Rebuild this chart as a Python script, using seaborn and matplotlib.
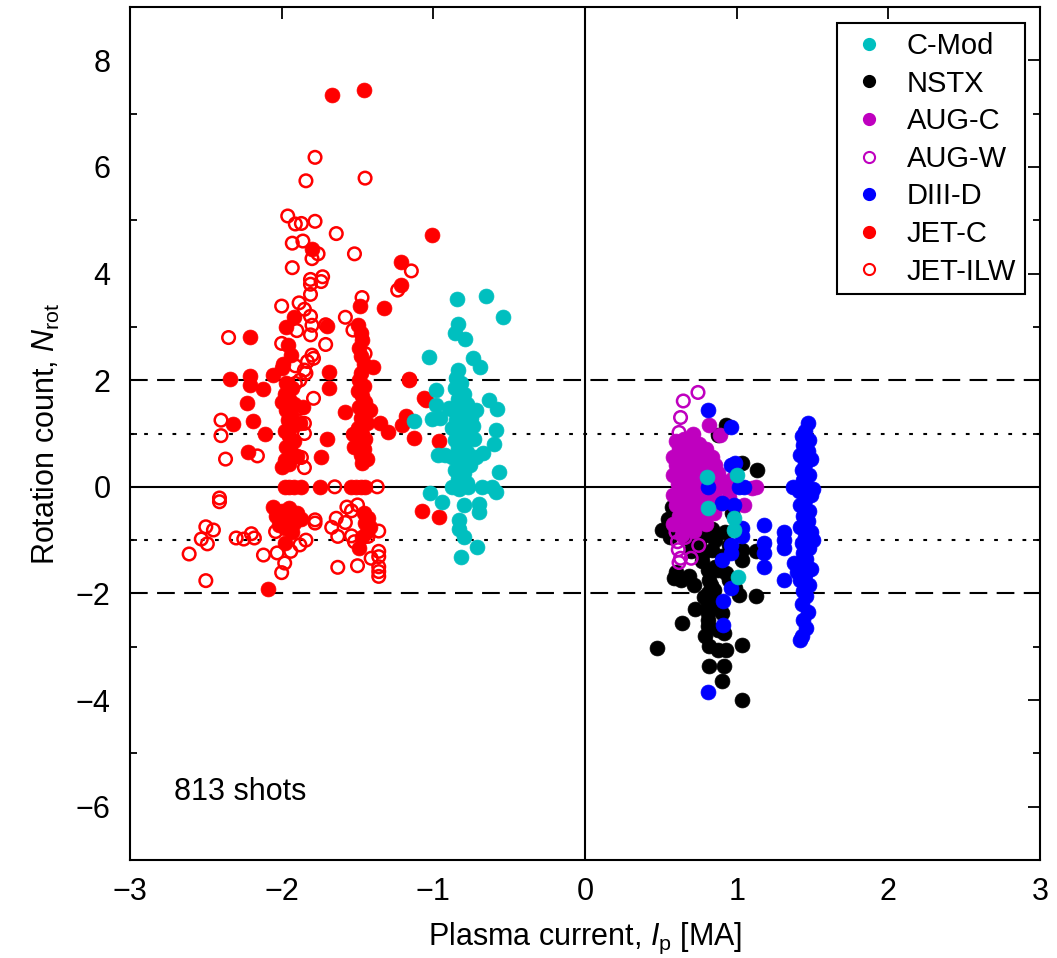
import matplotlib
matplotlib.use("Agg")
import matplotlib.pyplot as plt
import seaborn as sns
import pandas as pd
from matplotlib.lines import Line2D

# ---------------- data ----------------
cmod_x = [-0.846, -0.65, -0.54, -0.84, -0.86, -0.79, -1.03, -0.74, -0.69, -0.84, -0.98, -0.98, -1.13, -1.01,
          -0.955, -0.90, -0.63, -0.58, -0.59, -0.60, -0.67, -0.97, -0.92, -0.57, -0.59, -1.02, -0.94, -0.80,
          -0.70, -0.70, -0.83, -0.83, -0.80, -0.71, -0.82,
          -0.85, -0.82, -0.86, -0.80, -0.84, -0.78, -0.87, -0.81, -0.75, -0.85, -0.79, -0.88, -0.83, -0.76,
          -0.86, -0.80, -0.84, -0.78, -0.88, -0.82, -0.76, -0.86, -0.80, -0.84, -0.78, -0.72, -0.73, -0.72, -0.74,
          -0.88, -0.77, -0.68, -0.61, -0.83,
          0.806, 1.0, 0.81, 0.98, 0.98, 1.01]
cmod_y = [3.52, 3.58, 3.18, 3.05, 2.89, 2.77, 2.44, 2.42, 2.25, 2.20, 1.82, 1.54, 1.24, 1.27,
          1.30, 1.47, 1.63, 1.46, 1.07, 0.80, 0.63, 0.60, 0.60, 0.27, -0.09, -0.11, -0.28, -0.35,
          -0.32, -0.48, -0.62, -0.79, -0.94, -1.12, -1.31,
          2.05, 1.95, 1.85, 1.75, 1.65, 1.55, 1.45, 1.38, 1.30, 1.25, 1.18, 1.10, 1.02, 0.95,
          0.88, 0.80, 0.72, 0.65, 0.55, 0.48, 0.40, 0.32, 0.25, 0.15, 0.08, 1.45, 0.90, 0.55, 1.15,
          0.0, 0.0, 0.0, 0.0, -0.05,
          0.19, 0.22, -0.40, -0.59, -0.81, -1.70]

nstx_x = [0.477, 0.64, 0.725, 0.51, 0.587, 0.63, 0.685, 0.72, 1.037, 0.905, 0.817, 0.916, 0.93, 0.88,
          0.817, 1.037, 0.916, 0.81, 0.81, 0.81, 0.81, 0.81, 0.81, 1.125, 1.015, 0.95, 0.93, 0.88,
          0.81, 0.82, 0.86, 0.77, 0.78, 0.84, 1.037, 1.037, 1.125, 1.136, 1.037, 0.93, 0.88, 0.575,
          0.66, 0.785, 0.85, 0.88, 0.905, 0.69, 0.74, 0.80, 0.86, 0.92, 0.70, 0.75, 0.90, 0.95, 0.84,
          0.56, 0.55, 0.60, 0.97, 0.99, 0.79, 0.87, 0.83]
nstx_y = [-3.02, -2.56, -2.29, -0.81, -1.71, -1.74, -1.68, -1.84, -3.99, -3.65, -3.37, -3.37, -3.07, -3.07,
          -2.98, -2.96, -2.74, -2.62, -2.49, -2.36, -2.24, -2.12, -1.99, -2.05, -2.03, -1.74, -1.62, -1.56,
          -1.56, -1.74, -1.50, -1.40, -1.24, -1.18, -1.37, -1.18, -1.21, 0.32, 0.44, 1.16, 0.97, -0.37,
          -0.68, -2.06, -1.94, -2.68, -2.37, -1.00, -0.95, -0.90, -1.00, -0.85, -1.20, -1.10, -1.30, -1.10, -0.80,
          -0.95, -0.60, -1.60, -0.50, -1.90, -2.80, -2.20, -1.85]

augc_x = [0.82, 0.89, 0.71, 1.10, 1.13, 1.05,
          0.60, 0.65, 0.70, 0.75, 0.62, 0.68, 0.74, 0.80, 0.58, 0.64, 0.70, 0.77, 0.84, 0.60, 0.66, 0.72,
          0.78, 0.86, 0.58, 0.63, 0.69, 0.75, 0.82, 0.90, 0.61, 0.67, 0.73, 0.79, 0.86, 0.93, 0.58, 0.64,
          0.70, 0.76, 0.83, 0.90, 0.60, 0.66, 0.72, 0.78, 0.85, 0.62, 0.68, 0.74, 0.80, 0.66, 0.72, 0.64,
          0.58, 0.95, 0.97, 0.88]
augc_y = [1.16, 0.97, 1.00, -0.03, 0.00, -0.34,
          0.85, 0.90, 0.88, 0.80, 0.70, 0.72, 0.65, 0.70, 0.55, 0.55, 0.52, 0.50, 0.55, 0.40, 0.38, 0.35,
          0.32, 0.40, 0.22, 0.20, 0.18, 0.15, 0.10, 0.10, 0.05, 0.00, -0.02, -0.05, -0.08, 0.00, -0.15, -0.18,
          -0.20, -0.22, -0.25, -0.30, -0.35, -0.38, -0.40, -0.45, -0.50, -0.55, -0.60, -0.62, -0.70, -0.78, -0.82, -0.90,
          -0.70, -0.20, 0.15, 0.25]

augw_x = [0.745, 0.648, 0.63, 0.62, 0.61, 0.615, 0.63, 0.62, 0.70, 0.75,
          0.62, 0.60, 0.63, 0.61, 0.64, 0.60, 0.66, 0.68]
augw_y = [1.77, 1.61, 1.30, 1.02, -1.03, -1.18, -1.34, -1.42, -1.34, -1.10,
          0.80, 0.50, 0.20, -0.20, -0.60, -0.85, -0.95, 0.90]

diiid_x = [0.81, 0.96, 0.96, 0.99, 0.81, 1.015, 1.05, 0.905, 0.98, 1.18, 1.037, 1.037, 0.96, 0.96, 0.905,
           1.18, 1.18, 1.18, 0.96, 0.91, 0.91, 0.81, 1.31, 1.31, 1.31, 1.31, 1.38, 1.37,
           1.47, 1.45, 1.43, 1.48, 1.44, 1.47, 1.42, 1.49, 1.45, 1.43, 1.48, 1.44, 1.46, 1.41, 1.49, 1.45,
           1.42, 1.48, 1.44, 1.47, 1.42, 1.49, 1.45, 1.43, 1.48, 1.44, 1.46, 1.41, 1.49, 1.45, 1.42, 1.48,
           1.44, 1.46, 1.43, 1.47, 1.44, 1.46, 1.43, 1.42, 1.50, 1.50, 1.40]
diiid_y = [1.45, 1.13, 0.41, 0.45, 0.00, 0.00, 0.00, -0.31, -0.34, -0.71, -0.78, -0.93, -1.09, -1.24, -1.37,
           -1.06, -1.24, -1.50, -1.90, -2.15, -2.59, -3.84, -0.85, -1.00, -1.15, -1.74, -1.43, 0.00,
           1.19, 1.05, 0.95, 0.88, 0.78, 0.68, 0.60, 0.52, 0.42, 0.32, 0.22, 0.12, 0.02, -0.08, -0.15, -0.25,
           -0.35, -0.45, -0.55, -0.65, -0.75, -0.85, -0.95, -1.05, -1.15, -1.25, -1.35, -1.45, -1.55, -1.65, -1.75, -1.85,
           -1.95, -2.05, -2.20, -2.35, -2.50, -2.65, -2.80, -2.87, -0.05, -1.00, -1.60]

jetc_x = [-1.67, -1.457, -1.007, -1.80, -1.21, -1.21, -1.485, -1.325, -1.92, -1.97, -1.70, -1.50, -2.21,
          -1.96, -1.94, -1.48, -1.47, -1.49, -1.48, -1.46, -1.48, -1.40, -1.69, -2.00, -2.34, -2.21, -2.06,
          -1.16, -2.21, -2.12, -2.23, -2.32, -2.19, -2.11, -2.22, -2.00, -1.74, -1.70, -1.69, -1.58, -1.35,
          -1.30, -1.205, -1.06, -1.05, -1.18, -1.13, -0.96, -1.075, -0.96, -2.09, -1.16,
          -1.97, -1.93, -1.98, -1.95, -1.92, -1.97, -1.94, -1.96, -1.93, -1.98, -1.95, -1.92, -1.97, -1.94,
          -1.90, -1.98, -1.95, -1.86, -1.88, -2.00, -1.99,
          -1.49, -1.46, -1.50, -1.47, -1.45, -1.49, -1.46, -1.48, -1.44, -1.50, -1.47, -1.45, -1.49, -1.46,
          -1.48, -1.44, -1.47, -1.53, -1.42, -1.52,
          -1.98, -1.92, -1.87, -1.75, -1.54, -1.48, -1.45, -1.95, -1.51,
          -2.06, -2.00, -1.95, -1.90, -2.04, -1.97, -1.92, -1.87, -2.02, -1.98, -1.93, -1.98,
          -1.46, -1.43, -1.45, -1.42, -1.44, -1.47, -1.49]
jetc_y = [7.34, 7.45, 4.73, 4.47, 4.22, 3.78, 3.39, 3.36, 3.19, 3.00, 3.02, 3.03, 2.81,
          2.66, 2.47, 2.88, 2.75, 2.60, 2.45, 2.30, 2.13, 2.24, 2.15, 2.22, 2.03, 2.08, 2.10,
          2.03, 1.91, 1.83, 1.58, 1.17, 1.24, 0.99, 0.66, 0.38, 0.55, 0.89, 1.85, 1.41, 1.20,
          1.03, 1.16, 1.66, 1.63, 1.32, 0.91, 0.86, -0.46, -0.57, -1.92, 2.00,
          1.95, 1.85, 1.75, 1.65, 1.55, 1.45, 1.35, 1.25, 1.15, 1.05, 0.95, 0.85, 0.75, 0.65,
          0.58, 0.50, 0.42, 1.50, 1.20, 1.60, 2.30,
          2.00, 1.90, 1.80, 1.70, 1.60, 1.50, 1.40, 1.30, 1.20, 1.10, 1.00, 0.90, 0.80, 0.70,
          0.60, 0.52, 0.45, 1.00, 1.45, 0.75,
          0.0, 0.0, 0.0, 0.0, 0.0, 0.0, 0.0, 0.0, 0.0,
          -0.38, -0.45, -0.40, -0.50, -0.55, -0.62, -0.68, -0.60, -0.72, -0.78, -0.85, -1.05,
          -0.50, -0.58, -0.68, -0.75, -0.85, -0.95, -1.15]

jetilw_x = [-1.78, -1.84, -1.45, -1.96, -1.91, -1.87, -1.78, -1.64, -1.93, -1.86, -1.76, -1.80, -1.52,
            -1.145, -1.93, -1.81, -1.73, -1.74, -1.81, -1.81, -1.47, -1.235, -2.00, -1.885, -1.85, -1.81,
            -1.58, -1.80, -1.71, -1.90, -1.81, -1.53, -2.35, -2.00, -1.71, -1.80, -1.79, -1.83, -1.91,
            -1.85, -1.45, -1.84,
            -2.40, -2.40, -2.37, -2.16, -1.85, -1.87, -1.79, -1.88, -1.85, -1.85, -1.91, -1.88,
            -1.65, -1.37,
            -2.41, -2.41, -2.50, -2.45, -2.53, -2.49, -2.61, -2.50, -2.30, -2.25, -2.20, -2.18, -2.12,
            -2.04, -2.03, -1.98, -2.00, -1.94, -1.88, -1.84, -1.78, -1.78, -1.67, -1.64, -1.63, -1.58,
            -1.57, -1.54, -1.50, -1.54, -1.52, -1.63, -1.50, -1.43, -1.41, -1.36, -1.36, -1.36, -1.36,
            -1.36, -1.36]
jetilw_y = [6.18, 5.74, 5.79, 5.08, 4.93, 4.94, 4.98, 4.75, 4.57, 4.61, 4.37, 4.28, 4.37,
            4.05, 4.11, 3.89, 3.94, 3.85, 3.80, 3.61, 3.55, 3.69, 3.39, 3.45, 3.33, 3.20,
            3.18, 3.03, 3.04, 2.93, 2.85, 2.94, 2.80, 2.69, 2.67, 2.47, 2.41, 2.35, 2.27,
            2.19, 2.50, 2.13,
            1.25, 0.96, 0.52, 0.58, 0.36, 0.55, 1.66, 1.47, 1.19, 1.00, 1.94, 2.00,
            0.0, 0.0,
            -0.21, -0.28, -0.75, -0.81, -0.98, -1.07, -1.26, -1.76, -0.96, -0.98, -0.88, -0.96, -1.28,
            -0.84, -1.24, -1.43, -1.61, -1.21, -1.09, -1.00, -0.68, -0.62, -0.76, -0.59, -0.93, -0.67,
            -0.38, -0.45, -0.34, -0.92, -1.03, -1.51, -1.48, -0.93, -1.34, -0.83, -1.21, -1.31, -1.50,
            -1.59, -1.68]

labels = ["C-Mod", "NSTX", "AUG-C", "AUG-W", "DIII-D", "JET-C", "JET-ILW"]
colors = ["#00BFBF", "#000000", "#BF00BF", "#BF00BF", "#0000FF", "#FF0000", "#FF0000"]
filled = [True, True, True, False, True, True, False]
series_x = [cmod_x, nstx_x, augc_x, augw_x, diiid_x, jetc_x, jetilw_x]
series_y = [cmod_y, nstx_y, augc_y, augw_y, diiid_y, jetc_y, jetilw_y]
zorders = [8, 4, 5, 6, 7, 3, 3.5]

# ---------------- figure ----------------
sns.set_theme(style="white")
plt.rcParams["font.family"] = ["Liberation Sans", "DejaVu Sans"]
plt.rcParams["mathtext.fontset"] = "custom"
plt.rcParams["mathtext.rm"] = "Liberation Sans"
plt.rcParams["mathtext.it"] = "Liberation Sans:italic"
for key in ("text.color", "axes.labelcolor", "xtick.color", "ytick.color"):
    plt.rcParams[key] = "black"

FS = 22

fig = plt.figure(figsize=(10.57, 9.58), dpi=100)
ax = fig.add_axes([130 / 1057, 1 - 860 / 958, 910 / 1057, 853 / 958])

# reference lines
ax.axhline(0, color="black", lw=1.5, zorder=1)
ax.axvline(0, color="black", lw=1.5, zorder=1)
for yv in (2, -2):
    ax.axhline(yv, color="black", lw=1.5, dashes=(8.5, 4.5), zorder=1)
for yv in (1, -1):
    ax.axhline(yv, color="black", lw=1.5, dashes=(1.8, 5.0), zorder=1)

for lab, c, f, xs, ys, z in zip(labels, colors, filled, series_x, series_y, zorders):
    df = pd.DataFrame({"Ip": xs, "Nrot": ys})
    if f:
        sns.scatterplot(data=df, x="Ip", y="Nrot", ax=ax, color=c, s=115,
                        edgecolor=c, linewidth=0.5, zorder=z, legend=False)
    else:
        sns.scatterplot(data=df, x="Ip", y="Nrot", ax=ax, s=82, facecolors="none",
                        edgecolor=c, linewidth=1.8, zorder=z, legend=False)

ax.set_xlim(-3, 3)
ax.set_ylim(-7, 9)
ax.set_xticks([-3, -2, -1, 0, 1, 2, 3])
ax.set_yticks([-6, -4, -2, 0, 2, 4, 6, 8])
ax.set_yticks([-5, -3, -1, 1, 3, 5, 7], minor=True)
ax.tick_params(axis="both", which="major", direction="in", length=8.5, width=1.3,
               top=True, right=True, labelsize=FS, color="black")
ax.tick_params(axis="x", which="major", pad=12)
ax.tick_params(axis="y", which="major", pad=14)
ax.tick_params(axis="y", which="minor", direction="in", length=5, width=1.3,
               left=True, right=True, color="black")
for sp in ax.spines.values():
    sp.set_color("black")
    sp.set_linewidth(1.5)

ax.set_xlabel(r"Plasma current, $I_\mathrm{p}$ [MA]", fontsize=FS, labelpad=10)
ax.set_ylabel(r"Rotation count, $N_\mathrm{rot}$", fontsize=FS, labelpad=10)

ax.text(-2.71, -5.72, "813 shots", fontsize=FS, ha="left", va="center")

handles = []
for lab, c, f in zip(labels, colors, filled):
    handles.append(Line2D([], [], ls="none", marker="o", markersize=8,
                          markerfacecolor=c if f else "none", markeredgecolor=c,
                          markeredgewidth=1.5, label=lab))
leg = ax.legend(handles=handles, loc="upper right", bbox_to_anchor=(0.9835, 0.981),
                fontsize=21, frameon=True, fancybox=False, framealpha=1,
                edgecolor="black", labelspacing=0.33, handletextpad=0.5,
                handlelength=1.6, borderpad=0.3, borderaxespad=0.0)
leg.get_frame().set_linewidth(1.5)
leg.set_zorder(20)

fig.savefig("out.png", dpi=100)
